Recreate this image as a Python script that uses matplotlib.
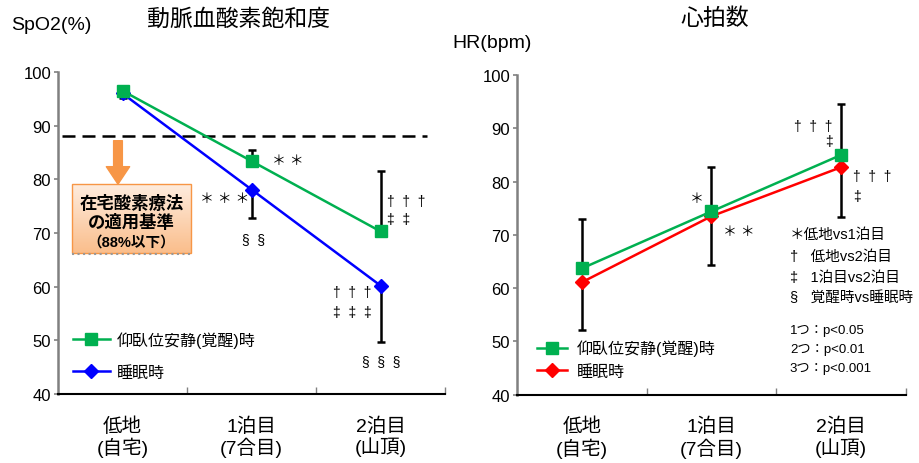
import numpy as np
import matplotlib
matplotlib.use("Agg")
import matplotlib.pyplot as plt
from matplotlib.patches import Rectangle

plt.rcParams["font.family"] = ["Liberation Sans", "Noto Sans CJK JP", "DejaVu Sans"]

# 測定時点
categories = ["低地\n(自宅)", "1泊目\n(7合目)", "2泊目\n(山頂)"]

# SpO2 (%)
spo2_awake = [96.5, 83.4, 70.3]
spo2_awake_sd_up = [0.0, 2.1, 11.2]
spo2_sleep = [96.0, 78.1, 60.2]
spo2_sleep_sd_down = [0.9, 5.3, 10.5]

# 心拍数 (bpm)
hr_awake = [63.7, 74.4, 85.0]
hr_awake_sd_up = [9.3, 8.3, 9.6]
hr_sleep = [61.1, 73.5, 82.7]
hr_sleep_sd_down = [8.9, 9.1, 9.4]

threshold = 88
yticks = [40, 50, 60, 70, 80, 90, 100]

GREEN = "#00B050"
BLUE = "#0000FF"
RED = "#FF0000"
ORANGE = "#F79646"

fig = plt.figure(figsize=(9.2, 4.64), dpi=100)
W, H = 920, 464


def px_axes(x0, y0, x1, y1):
    return fig.add_axes([x0 / W, 1 - y1 / H, (x1 - x0) / W, (y1 - y0) / H])


def style_axes(ax):
    x = np.arange(len(categories))
    ax.set_xlim(-0.5, len(categories) - 0.5)
    ax.set_ylim(40, 100)
    ax.set_yticks(yticks)
    ax.set_xticks(x)
    ax.set_xticklabels(categories, fontsize=14, linespacing=1.12)
    ax.set_xticks(x + 0.5, minor=True)
    ax.tick_params(axis="x", which="major", length=0, pad=16)
    ax.tick_params(axis="x", which="minor", direction="in", length=5,
                   color="#808080", width=1)
    ax.tick_params(axis="y", direction="out", length=3, pad=2,
                   color="#808080", width=1.2, labelsize=12)
    for s in ["top", "right"]:
        ax.spines[s].set_visible(False)
    ax.spines["left"].set_color("#808080")
    ax.spines["left"].set_linewidth(1.8)
    ax.spines["bottom"].set_color("black")
    ax.spines["bottom"].set_linewidth(1.5)
    ax.patch.set_alpha(0)


def draw_series(ax, y_top, up, y_low, down, low_color, low_marker, low_ms):
    x = np.arange(len(categories))
    ax.errorbar(x, y_top, yerr=[np.zeros(len(x)), up], fmt="none",
                ecolor="black", elinewidth=1.8, capsize=3, capthick=1.8, zorder=2)
    ax.errorbar(x, y_low, yerr=[down, np.zeros(len(x))], fmt="none",
                ecolor="black", elinewidth=1.8, capsize=3, capthick=1.8, zorder=2)
    h1, = ax.plot(x, y_top, color=GREEN, lw=1.8, marker="s", ms=9,
                  label="仰臥位安静(覚醒)時", zorder=4)
    h2, = ax.plot(x, y_low, color=low_color, lw=1.8, marker=low_marker,
                  ms=low_ms, label="睡眠時", zorder=3)
    return [h1, h2]


# ---- 左：動脈血酸素飽和度 ----
ax1 = px_axes(58, 73, 445, 395)
style_axes(ax1)
handles = draw_series(ax1, spo2_awake, spo2_awake_sd_up,
                      spo2_sleep, spo2_sleep_sd_down, BLUE, "D", 7.5)
ax1.axhline(threshold, xmin=0.01, xmax=0.953, color="black", lw=1.8,
            linestyle=(0, (5.2, 2.8)), zorder=1)

# 在宅酸素療法の基準ボックス
bx0, bx1, by0, by1 = -0.39, 0.53, 66.3, 79.1
grad = np.linspace(0, 1, 64).reshape(-1, 1)
top_c = np.array([254, 236, 222]) / 255
bot_c = np.array([250, 190, 140]) / 255
img = top_c[None, None, :] * (1 - grad[:, :, None]) + bot_c[None, None, :] * grad[:, :, None]
ax1.imshow(img, extent=[bx0, bx1, by0, by1], aspect="auto", origin="upper", zorder=5)
ax1.add_patch(Rectangle((bx0, by0), bx1 - bx0, by1 - by0, fill=False,
                        edgecolor=ORANGE, lw=1.0, zorder=6))
ax1.plot([bx0, bx1], [by0 - 0.25, by0 - 0.25], color="#999999", lw=1.5,
         linestyle=":", zorder=6)
ax1.text((bx0 + bx1) / 2, 73.9, "在宅酸素療法\nの適用基準", ha="center", va="center",
         fontsize=12.5, fontweight="bold", linespacing=1.2, zorder=7)
ax1.text((bx0 + bx1) / 2, 68.4, "（88%以下）", ha="center", va="center",
         fontsize=10.5, fontweight="bold", zorder=7)
ax1.annotate("", xy=(-0.035, by1), xytext=(-0.035, 87.2),
             arrowprops=dict(arrowstyle="simple,head_length=0.9,head_width=1.2,tail_width=0.45",
                             color=ORANGE, shrinkA=0, shrinkB=0, mutation_scale=14),
             zorder=6)
ax1.set_xlim(-0.5, 2.5)
ax1.set_ylim(40, 100)

# 有意差記号
mk = dict(fontsize=10, va="center", ha="left")
ax1.text(1.159, 83.6, "＊ ＊", **mk)
ax1.text(0.60, 76.5, "＊ ＊ ＊", **mk)
ax1.text(0.926, 68.9, "§  §", **mk)
ax1.text(2.05, 76.0, "†  †  †", **mk)
ax1.text(2.05, 72.6, "‡  ‡", **mk)
ax1.text(1.632, 59.0, "†  †  †", **mk)
ax1.text(1.632, 55.3, "‡  ‡  ‡", **mk)
ax1.text(1.857, 46.2, "§  §  §", **mk)

ax1.legend(handles=handles, loc="upper left", bbox_to_anchor=(0.039, 0.195),
           frameon=False, fontsize=11.5, handlelength=2.3, handletextpad=0.45,
           borderaxespad=0, borderpad=0, labelspacing=1.05)

# ---- 右：心拍数 ----
ax2 = px_axes(517, 76, 906, 395.7)
style_axes(ax2)
handles2 = draw_series(ax2, hr_awake, hr_awake_sd_up,
                       hr_sleep, hr_sleep_sd_down, RED, "D", 7.5)

ax2.text(0.886, 76.9, "＊", fontsize=10, va="center", ha="center")
ax2.text(1.088, 70.7, "＊ ＊", **mk)
ax2.text(1.936, 90.4, "†  †  †", fontsize=10, va="center", ha="right")
ax2.text(1.936, 87.6, "‡", fontsize=10, va="center", ha="right")
ax2.text(2.09, 81.05, "†  †  †", **mk)
ax2.text(2.09, 77.3, "‡", **mk)

notes = ["＊低地vs1泊目", "†   低地vs2泊目", "‡   1泊目vs2泊目", "§   覚醒時vs睡眠時"]
note_y = [70.2, 66.0, 62.1, 58.3]
for t, y in zip(notes, note_y):
    ax2.text(1.605, y, t, fontsize=10.5, va="center", ha="left")
levels = ["1つ：p<0.05", "2つ：p<0.01", "3つ：p<0.001"]
level_y = [52.2, 48.6, 45.0]
for t, y in zip(levels, level_y):
    ax2.text(1.605, y, t, fontsize=9.5, va="center", ha="left")

ax2.legend(handles=handles2, loc="upper left", bbox_to_anchor=(0.051, 0.172),
           frameon=False, fontsize=11.5, handlelength=1.9, handletextpad=0.6,
           borderaxespad=0, borderpad=0, labelspacing=0.45)

# タイトルと軸ラベル
fig.text(239 / W, 1 - 19 / H, "動脈血酸素飽和度", ha="center", va="center", fontsize=16.5)
fig.text(715 / W, 1 - 18 / H, "心拍数", ha="center", va="center", fontsize=16.5)
fig.text(11 / W, 1 - 25 / H, "SpO2(%)", ha="left", va="center", fontsize=14)
fig.text(452 / W, 1 - 43 / H, "HR(bpm)", ha="left", va="center", fontsize=14)

fig.savefig("out.png", dpi=100)
